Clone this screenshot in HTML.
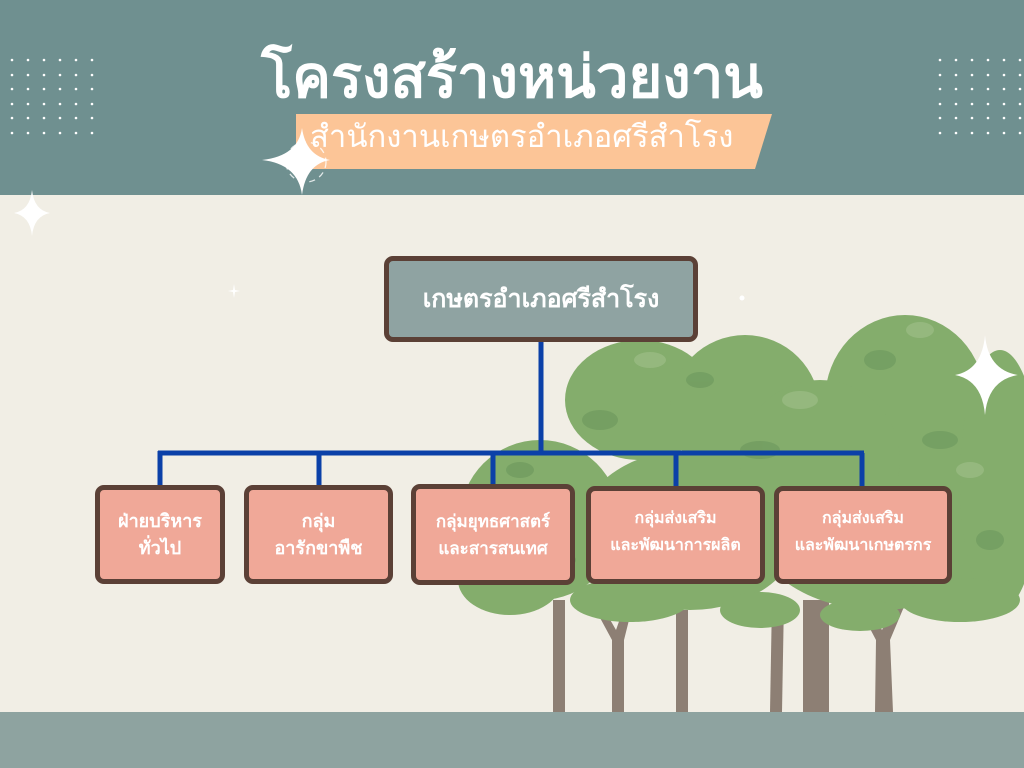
<!DOCTYPE html>
<html><head><meta charset="utf-8"><style>
body{margin:0;width:1024px;height:768px;overflow:hidden;background:#f1eee5;font-family:"Liberation Sans","DejaVu Sans",sans-serif;position:relative}
.hdr{position:absolute;left:0;top:0;width:1024px;height:195px;background:#6f9090}
.ftr{position:absolute;left:0;top:712px;width:1024px;height:56px;background:#8ea3a0}
.t1{position:absolute;left:0;width:1024px;top:40px;text-align:center;color:#fff;font-weight:bold;font-size:58px;line-height:76px}
.t2{position:absolute;left:296px;top:114px;width:460px;height:55px;color:#fff;font-size:31px;line-height:46px;padding-left:14px;white-space:nowrap}
.box{position:absolute;box-sizing:border-box;border:5px solid #5b4036;border-radius:9px;background:#f0a898;color:#fff;font-weight:bold;display:flex;align-items:center;justify-content:center;text-align:center;font-size:18px;line-height:27px}
</style></head><body>
<div class="hdr"></div>
<div class="ftr"></div>
<svg width="1024" height="768" style="position:absolute;left:0;top:0">
<polygon points="296,114 772,114 755,169 296,169" fill="#fcc597"/>
<g fill="#fff">
<g id="dg">
<circle cx="12" cy="60" r="1.3"/><circle cx="28" cy="60" r="1.3"/><circle cx="44" cy="60" r="1.3"/><circle cx="60" cy="60" r="1.3"/><circle cx="76" cy="60" r="1.3"/><circle cx="92" cy="60" r="1.3"/>
</g>
<use href="#dg" y="15"/><use href="#dg" y="29"/><use href="#dg" y="44"/><use href="#dg" y="58"/><use href="#dg" y="73"/>
<use href="#dg" x="928"/><use href="#dg" x="928" y="15"/><use href="#dg" x="928" y="29"/><use href="#dg" x="928" y="44"/><use href="#dg" x="928" y="58"/><use href="#dg" x="928" y="73"/>
<path d="M302,128 Q306,156 330,160 Q306,164 302,195 Q298,164 262,160 Q298,156 302,128Z"/>
<path d="M32,190 Q34,210 50,213 Q34,216 32,236 Q30,216 14,213 Q30,210 32,190Z"/>
<path d="M234,284 L235,290 L240,291 L235,292 L234,298 L233,292 L228,291 L233,290Z"/>
<circle cx="742" cy="298" r="2.5"/>
</g>
<circle cx="306" cy="162" r="20" fill="none" stroke="#fff" stroke-width="1.3" stroke-dasharray="6 5" opacity=".8"/>
<g fill="#8d7f74">
<rect x="553" y="600" width="12" height="112"/><path d="M612,712 L612,640 L585,590 L592,588 L616,630 L630,590 L636,592 L624,640 L624,712Z"/><rect x="676" y="610" width="12" height="102"/><path d="M770,712 L772,600 L784,600 L782,712Z"/><rect x="803" y="600" width="26" height="112"/><path d="M875,712 L876,640 L855,600 L862,598 L882,630 L900,598 L906,602 L890,640 L893,712Z"/>
</g>
<g fill="#84ad6c">
<ellipse cx="640" cy="400" rx="75" ry="60"/><ellipse cx="745" cy="410" rx="75" ry="75"/><ellipse cx="905" cy="400" rx="80" ry="85"/>
<ellipse cx="540" cy="520" rx="80" ry="80"/><ellipse cx="690" cy="530" rx="110" ry="80"/><ellipse cx="880" cy="520" rx="130" ry="90"/>
<ellipse cx="510" cy="580" rx="52" ry="35"/><ellipse cx="1000" cy="480" rx="40" ry="130"/><ellipse cx="820" cy="460" rx="80" ry="80"/>
<ellipse cx="630" cy="600" rx="60" ry="22"/><ellipse cx="960" cy="600" rx="60" ry="22"/><ellipse cx="760" cy="610" rx="40" ry="18"/><ellipse cx="860" cy="615" rx="40" ry="16"/>
</g>
<g fill="#6f9a5f" opacity=".7">
<ellipse cx="600" cy="420" rx="18" ry="10"/><ellipse cx="700" cy="380" rx="14" ry="8"/><ellipse cx="760" cy="450" rx="20" ry="9"/><ellipse cx="880" cy="360" rx="16" ry="10"/><ellipse cx="940" cy="440" rx="18" ry="9"/><ellipse cx="520" cy="470" rx="14" ry="8"/><ellipse cx="830" cy="540" rx="18" ry="9"/><ellipse cx="990" cy="540" rx="14" ry="10"/><ellipse cx="560" cy="560" rx="16" ry="8"/>
</g>
<g fill="#a0c08a" opacity=".6">
<ellipse cx="650" cy="360" rx="16" ry="8"/><ellipse cx="800" cy="400" rx="18" ry="9"/><ellipse cx="920" cy="330" rx="14" ry="8"/><ellipse cx="970" cy="470" rx="14" ry="8"/><ellipse cx="480" cy="540" rx="12" ry="8"/>
</g>
<path d="M985,335 Q988,370 1018,375 Q988,380 985,415 Q982,380 955,375 Q982,370 985,335Z" fill="#fff"/>
<g stroke="#0b40a8" stroke-width="5" fill="none">
<path d="M541,341V453M158,453H864M160,451V487M319,453V487M493,453V487M676,453V489M862,453V489"/>
</g>
</svg>
<div class="t1">โครงสร้างหน่วยงาน</div>
<div class="t2">สำนักงานเกษตรอำเภอศรีสำโรง</div>
<div class="box" style="left:384px;top:256px;width:314px;height:86px;background:#8fa3a2;font-size:25px">เกษตรอำเภอศรีสำโรง</div>
<div class="box" style="left:95px;top:485px;width:130px;height:99px">ฝ่ายบริหาร<br>ทั่วไป</div>
<div class="box" style="left:244px;top:485px;width:149px;height:99px">กลุ่ม<br>อารักขาพืช</div>
<div class="box" style="left:411px;top:484px;width:164px;height:101px;font-size:17px">กลุ่มยุทธศาสตร์<br>และสารสนเทศ</div>
<div class="box" style="left:586px;top:486px;width:179px;height:98px;font-size:16px;align-items:flex-start;padding-top:14px">กลุ่มส่งเสริม<br>และพัฒนาการผลิต</div>
<div class="box" style="left:774px;top:486px;width:178px;height:98px;font-size:16px;align-items:flex-start;padding-top:14px">กลุ่มส่งเสริม<br>และพัฒนาเกษตรกร</div>
</body></html>
